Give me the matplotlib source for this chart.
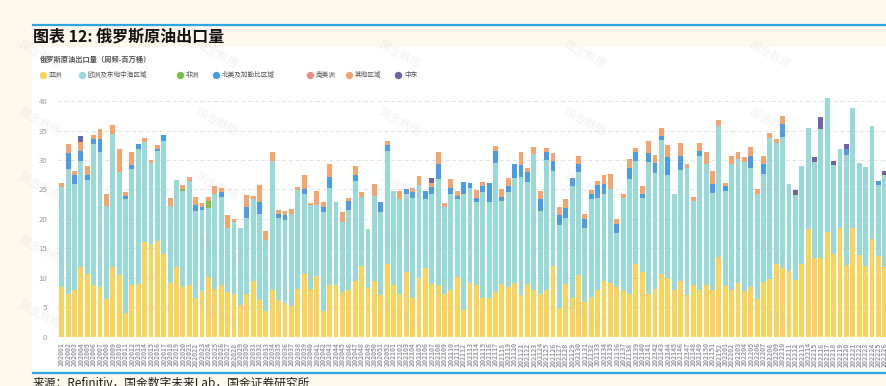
import matplotlib
matplotlib.use('Agg')
import matplotlib.pyplot as plt
from matplotlib.patches import Rectangle
from matplotlib.lines import Line2D
import numpy as np

plt.rcParams['font.family'] = ['Noto Sans CJK SC', 'DejaVu Sans']

# weekly labels: 2020W01..2020W52, 2021W01..2021W52, 2022W01..2022W26
weeks = ([f'2020{w:02d}' for w in range(1, 53)] +
         [f'2021{w:02d}' for w in range(1, 53)] +
         [f'2022{w:02d}' for w in range(1, 27)])

# million barrels per week
asia = [8.5, 7.2, 8.0, 11.9, 10.6, 8.7, 8.5, 6.4, 11.9, 10.4, 4.1, 8.8, 9.0, 16.1, 15.8, 16.2, 14.1, 9.2, 11.8, 8.4,
        8.7, 6.5, 7.7, 10.2, 8.1, 8.7, 7.6, 7.2, 5.3, 7.2, 9.4, 6.2, 4.3, 8.0, 6.2, 5.8, 5.2, 8.1, 10.7, 8.1,
        10.3, 4.3, 8.7, 8.7, 7.6, 8.0, 9.4, 12.0, 8.2, 9.4, 7.0, 12.3, 8.7, 7.2, 11.0, 6.6, 10.0, 11.7, 8.9, 8.8,
        7.2, 7.9, 10.1, 4.5, 9.2, 8.8, 6.6, 6.6, 7.6, 8.9, 8.4, 9.2, 7.0, 9.0, 8.0, 7.2, 7.9, 12.0, 4.8, 8.9,
        6.6, 10.5, 5.9, 6.8, 7.9, 9.4, 9.2, 8.5, 7.8, 7.2, 12.3, 10.9, 7.2, 8.1, 10.7, 9.9, 7.9, 9.4, 7.1, 8.7,
        7.9, 8.8, 7.9, 13.6, 8.6, 8.0, 9.2, 7.7, 8.5, 6.4, 9.3, 9.8, 12.3, 11.7, 11.1, 9.7, 12.3, 18.3, 13.3, 13.3,
        17.8, 14.1, 18.5, 12.2, 18.4, 13.9, 12.0, 16.6, 13.7, 11.9]
europe = [16.9, 21.2, 18.0, 18.0, 16.0, 24.0, 22.9, 15.8, 22.5, 17.5, 19.3, 19.6, 22.8, 16.9, 13.7, 15.4, 19.1, 13.0, 14.8, 16.4,
          17.7, 14.9, 13.8, 11.7, 16.1, 15.1, 10.9, 12.3, 13.1, 12.9, 13.9, 14.7, 12.2, 21.9, 13.9, 14.0, 15.7, 16.8, 13.6, 14.2,
          12.1, 16.8, 16.6, 14.2, 11.9, 13.5, 17.0, 11.8, 10.1, 14.5, 14.2, 19.3, 16.0, 16.2, 13.3, 16.9, 15.8, 11.6, 15.4, 18.0,
          14.8, 16.4, 13.2, 19.8, 16.1, 14.0, 18.0, 16.2, 21.9, 14.1, 16.2, 17.8, 20.1, 17.2, 23.0, 14.2, 22.1, 16.2, 14.2, 11.3,
          19.0, 17.4, 12.5, 16.5, 15.7, 14.9, 15.9, 9.1, 15.8, 19.6, 17.5, 12.7, 22.5, 19.7, 22.7, 17.5, 16.3, 18.9, 21.6, 14.4,
          22.8, 20.6, 16.5, 22.1, 16.1, 21.4, 20.9, 22.0, 20.2, 17.9, 18.3, 24.0, 20.6, 22.2, 14.9, 14.3, 16.7, 17.2, 16.4, 22.0,
          22.8, 15.0, 13.3, 18.6, 20.5, 15.6, 16.8, 19.1, 12.0, 15.5]
africa = [0.0] * 130
africa[19] = 0.2
africa[23] = 1.1
namerica = [0, 2.8, 1.5, 1.7, 0.8, 0.8, 2.1, 0, 0, 0, 0.5, 0.8, 1.0, 0, 0, 0.3, 1.0, 0, 0, 0,
            0, 0.9, 0.6, 0, 0, 0.7, 0, 0, 0, 2.0, 0, 1.9, 0, 0, 0.8, 0.8, 0, 0, 0.7, 0,
            0, 1.0, 1.8, 0, 0, 1.5, 1.0, 0, 0, 0, 1.6, 0.9, 0, 0, 0.7, 1.1, 0, 1.5, 1.1, 2.5,
            0, 1.0, 0.6, 1.9, 0.8, 0.8, 1.0, 3.3, 2.1, 0.7, 1.0, 2.3, 2.1, 1.8, 0, 2.0, 1.4, 1.7, 1.6, 1.7,
            1.3, 1.4, 1.6, 0.9, 2.2, 1.7, 0, 1.6, 0, 1.9, 1.5, 0.6, 1.5, 1.7, 0.7, 3.1, 0, 2.4, 0, 0,
            0.9, 0, 1.5, 0, 0.8, 0, 0, 0, 2.0, 0, 1.7, 0, 0, 2.2, 0, 0, 0, 0, 0, 0,
            0, 0, 0, 1.0, 0, 0, 0, 0, 0.8, 0]
samerica = [0.0] * 130
other = [0.7, 1.5, 0.7, 1.5, 1.6, 0.8, 1.8, 2.0, 1.6, 3.9, 0.6, 2.2, 0, 0.7, 0.5, 0.6, 0, 1.4, 0, 0.7,
         0.7, 1.5, 0.6, 0.8, 1.4, 0.8, 2.1, 0.5, 0, 2.0, 0.6, 2.9, 1.4, 1.4, 0.6, 0.8, 0.8, 0.5, 2.5, 0.4,
         2.3, 0.7, 2.3, 0, 1.6, 0.6, 1.5, 0.7, 0, 2.1, 0, 0.8, 0, 1.3, 0, 0.7, 1.5, 0, 0.7, 2.0,
         0.7, 1.5, 0.8, 0, 0, 1.3, 0.6, 0, 0.8, 1.4, 1.4, 0, 2.2, 0.7, 1.2, 1.3, 0.7, 1.3, 1.5, 1.5,
         0, 1.3, 0.8, 0.7, 0.7, 1.4, 2.6, 0.8, 0.7, 1.4, 0.8, 1.4, 2.1, 1.3, 1.4, 2.0, 0, 2.2, 0.7, 0.7,
         1.3, 2.0, 2.2, 1.1, 0.6, 1.3, 1.3, 0.8, 1.5, 0.8, 1.4, 0.7, 0.7, 1.3, 0, 0, 0, 0, 0, 0,
         0, 0, 0, 0, 0, 0, 0, 0, 0, 0]
mideast = [0.0] * 130
mideast[3] = 0.9
mideast[58] = 0.8
mideast[115] = 0.9
mideast[118] = 0.8
mideast[119] = 2.0
mideast[121] = 0.7
mideast[123] = 0.9
mideast[129] = 0.7

series = [
    ('亚洲', asia, '#f9d45c'),
    ('欧洲及东地中海区域', europe, '#98dad8'),
    ('非洲', africa, '#7cbf45'),
    ('北美及加勒比区域', namerica, '#4a9ce8'),
    ('南美洲', samerica, '#f08a8a'),
    ('其他区域', other, '#f5a46e'),
    ('中东', mideast, '#6d63a8'),
]

W, H = 886, 386
fig = plt.figure(figsize=(W / 100, H / 100), dpi=100)
fig.patch.set_facecolor('#fdf8ec')

def fx(px):
    return px / W

def fy(py):
    return 1 - py / H

# white panel and blue rules
fig.add_artist(Rectangle((fx(32), fy(371)), fx(W - 32), (371 - 47) / H,
                         transform=fig.transFigure, facecolor='white', edgecolor='none', zorder=0))
fig.add_artist(Line2D([fx(33), 1], [fy(25), fy(25)], transform=fig.transFigure, color='#2aa6e0', lw=1.6))
fig.add_artist(Line2D([fx(33), 1], [fy(372.5), fy(372.5)], transform=fig.transFigure, color='#2aa6e0', lw=1.6))

fig.text(fx(33), fy(36), '图表 12: 俄罗斯原油出口量', fontsize=11.5, fontweight='bold', va='center', color='#111111')
fig.text(fx(40), fy(59), '俄罗斯原油出口量（周频-百万桶）', fontsize=5.2, fontweight='bold', va='center', color='#555555')
fig.text(fx(33), fy(377), '来源：Refinitiv，国金数字未来Lab，国金证券研究所', fontsize=8.5, va='top', color='#222222')

ax = fig.add_axes([fx(57.2), fy(336.7), 1 - fx(57.2), (336.7 - 95.2) / H])
ax.set_facecolor('none')
x = np.arange(len(weeks))
bottom = np.zeros(len(weeks))
for name, vals, col in series:
    vals = np.array(vals, dtype=float)
    ax.bar(x, vals, 0.76, bottom=bottom, color=col, linewidth=0, zorder=2)
    bottom += vals

ax.set_xlim(-0.705, 129.2)
ax.set_ylim(0, 41)
ax.set_yticks(range(0, 45, 5))
ax.grid(axis='y', color='#e3e3e3', linestyle=(0, (4, 3)), linewidth=0.7, zorder=0)
for s in ax.spines.values():
    s.set_visible(False)
ax.tick_params(axis='y', length=0, pad=7, labelsize=5.6, labelcolor='#9b9ba5')
ax.set_xticks(x)
ax.set_xticklabels(weeks, rotation=90, fontsize=4.9, color='#9b9ba5', fontweight='bold')
ax.tick_params(axis='x', length=0, pad=4)

# legend drawn by hand
dots = [43, 82, 180, 216, 310, 349, 398]
for (name, vals, col), px in zip(series, dots):
    fig.add_artist(Line2D([fx(px)], [fy(75)], transform=fig.transFigure, marker='o',
                          markersize=4.3, color=col, linestyle='none'))
    fig.text(fx(px + 6), fy(75), name, fontsize=4.8, va='center', color='#555555')

# watermarks
for wx in [40, 217, 400, 585, 770]:
    for wy in [55, 122, 187, 250, 315]:
        fig.text(fx(wx), fy(wy), '国金数据', fontsize=8, rotation=-28, ha='center', va='center',
                 color='#bbbbbb', alpha=0.2, zorder=5)

fig.savefig('out.png', dpi=100, facecolor=fig.get_facecolor())
